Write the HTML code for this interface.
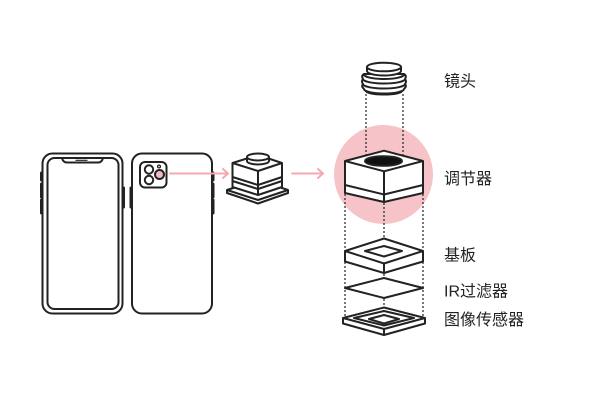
<!DOCTYPE html>
<html><head><meta charset="utf-8"><style>
html,body{margin:0;padding:0;background:#fff;}
svg{display:block;}
text{font-family:"Liberation Sans","Noto Sans CJK SC",sans-serif;font-size:16px;fill:#222;}
</style></head><body>
<svg width="600" height="400" viewBox="0 0 600 400" xmlns="http://www.w3.org/2000/svg">
<rect width="600" height="400" fill="#fff"/>
<!-- pink circle -->
<circle cx="383.5" cy="174.5" r="49.5" fill="#f6c3c9"/>

<g fill="none" stroke="#222" stroke-width="2" stroke-linejoin="round" stroke-linecap="round">
<!-- front phone -->
<rect x="42.5" y="153.5" width="80" height="160" rx="10"/>
<rect x="47.5" y="158" width="71" height="151" rx="7"/>
<path d="M62,158 Q63,162.5 67,162.5 L98,162.5 Q102,162.5 103,158"/>
<line x1="76" y1="160.3" x2="87" y2="160.3" stroke-width="1.2"/>
<line x1="41.5" y1="173" x2="41.5" y2="180" stroke-width="3"/>
<line x1="41.5" y1="184" x2="41.5" y2="197" stroke-width="3"/>
<line x1="41.5" y1="200" x2="41.5" y2="213" stroke-width="3"/>
<line x1="123.5" y1="188" x2="123.5" y2="207" stroke-width="3"/>
<!-- back phone -->
<rect x="132" y="153.5" width="80" height="160" rx="10"/>
<line x1="131" y1="188" x2="131" y2="207" stroke-width="3"/>
<line x1="213" y1="173" x2="213" y2="180" stroke-width="3"/>
<line x1="213" y1="184" x2="213" y2="197" stroke-width="3"/>
<line x1="213" y1="200" x2="213" y2="213" stroke-width="3"/>
<rect x="140" y="162" width="26.5" height="25.5" rx="5"/>
<circle cx="149" cy="169.5" r="4.2"/>
<circle cx="149" cy="180" r="4.2"/>
<circle cx="159.5" cy="174.5" r="4.5" fill="#f5b8c0"/>
<circle cx="159" cy="166.5" r="1.4" stroke-width="1.3"/>
</g>

<!-- arrows -->
<g fill="none" stroke="#f4a9b3" stroke-width="2" stroke-linecap="round" stroke-linejoin="round">
<line x1="170" y1="173.5" x2="228" y2="173.5"/>
<polyline points="223,169 228,173.5 223,178"/>
<line x1="292" y1="173.5" x2="323" y2="173.5"/>
<polyline points="318,169 323,173.5 318,178"/>
</g>

<!-- small module -->
<g fill="#fff" stroke="#222" stroke-width="2" stroke-linejoin="round">
<path d="M227,190 L258,180 L288,190 L288,193 L258,203.5 L227,193 Z"/>
<path d="M227,190 L258,200 L288,190" fill="none"/>
<path d="M232.5,163 L258,155 L282,163 L282,187 L258,195 L232.5,187 Z"/>
<path d="M232.5,163 L258,171 L282,163" fill="none"/>
<line x1="258" y1="171" x2="258" y2="195"/>
<path d="M232.5,177 L258,185 L282,177" fill="none"/>
<path d="M232.5,181 L258,189 L282,181" fill="none"/>
<path d="M247,157 L247,161 A11,3.5 0 0 0 269,161 L269,157"/>
<ellipse cx="258" cy="157" rx="11" ry="3.5"/>
</g>

<!-- dotted guides -->
<g fill="none" stroke="#222" stroke-width="1.2" stroke-dasharray="2,2">
<line x1="366" y1="94" x2="366" y2="156"/>
<line x1="403" y1="94" x2="403" y2="156"/>
<line x1="345" y1="194" x2="345" y2="318"/>
<line x1="423" y1="194" x2="423" y2="318"/>
<line x1="384" y1="203" x2="384" y2="238"/>
<line x1="384" y1="274" x2="384" y2="278"/>
<line x1="384" y1="299" x2="384" y2="307"/>
</g>

<g fill="#fff" stroke="#222" stroke-width="2" stroke-linejoin="round">
<!-- lens -->
<path d="M364,74 Q361,76 363,79 Q361,81.5 363,84 Q361,86.5 364,89 A20,4.5 0 0 0 404,89 Q407,86.5 405,84 Q407,81.5 405,79 Q407,76 404,74 Z"/>
<path d="M364,74.5 A20,4.5 0 0 0 404,74.5" fill="none"/>
<path d="M363,79 A21,4.5 0 0 0 405,79" fill="none"/>
<path d="M363,84 A21,4.5 0 0 0 405,84" fill="none"/>
<path d="M366,91 A18,3.5 0 0 0 402,91" fill="none"/>
<path d="M367,67 L367,71 A17,4.5 0 0 0 401,71 L401,67"/>
<ellipse cx="384" cy="67" rx="17" ry="4.3"/>

<!-- adjuster -->
<path d="M345,161 L384,150.7 L423,161 L423,193 L384,202 L345,193 Z"/>
<path d="M345,161 L384,171.3 L423,161" fill="none"/>
<line x1="384" y1="171.3" x2="384" y2="202"/>
<path d="M345,185 L384,194.5 L423,185" fill="none"/>
<ellipse cx="383.5" cy="161" rx="18.5" ry="4.8" fill="#111"/>

<!-- base plate -->
<path d="M345,251 L384,238.5 L423,251 L423,261.5 L384,273 L345,261.5 Z"/>
<path d="M345,251 L384,263.5 L423,251" fill="none"/>
<line x1="384" y1="263.5" x2="384" y2="273"/>
<path d="M365,251 L384,246 L402,251 L384,256.5 Z" fill="none"/>

<!-- IR filter -->
<path d="M345,288 L384,278 L423,288 L384,298 Z"/>

<!-- sensor -->
<path d="M343,318 L384,307.5 L425,318 L425,323.5 L384,335 L343,323.5 Z"/>
<path d="M343,318 L384,329 L425,318" fill="none"/>
<line x1="384" y1="329" x2="384" y2="335"/>
<path d="M354,318 L384,311 L414,318 L384,325.5 Z" fill="none"/>
<path d="M369,319 L384,315 L399,319 L384,323.5 Z" fill="none"/>
</g>

<!-- labels -->
<text x="444" y="86.5">镜头</text>
<text x="444" y="184">调节器</text>
<text x="444" y="260.5">基板</text>
<text x="444" y="296.5">IR过滤器</text>
<text x="444" y="325">图像传感器</text>
</svg>
</body></html>
